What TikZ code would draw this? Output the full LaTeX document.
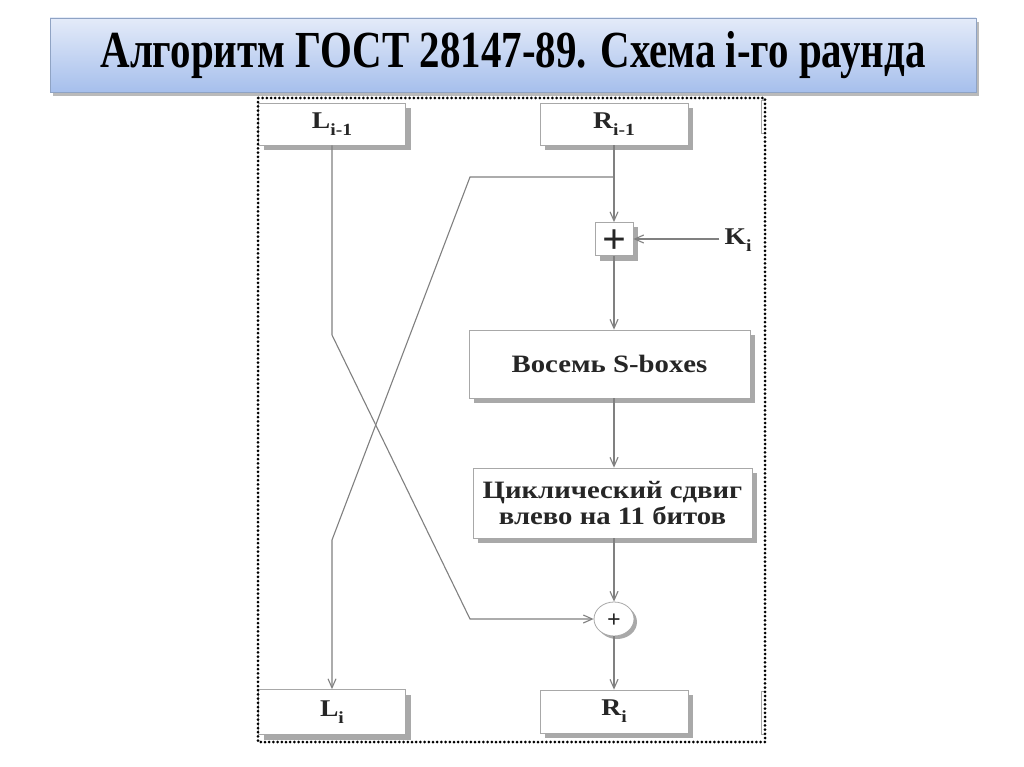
\documentclass[tikz,border=0pt]{standalone}
\usepackage{fontspec}
\setmainfont{Liberation Serif}
\usetikzlibrary{arrows.meta,positioning,shadows,calc,shapes.geometric}
\definecolor{wire}{HTML}{808080}
\definecolor{frame}{HTML}{A8A8A8}
\definecolor{shade}{HTML}{A9A9A9}
\definecolor{ink}{HTML}{262626}
\definecolor{skytop}{HTML}{E4EBF9}
\definecolor{skybot}{HTML}{A6BFEC}
\definecolor{skyline}{HTML}{8FA3C4}
\newcommand{\lowsub}[1]{\raisebox{-0.3em}{\fontsize{17}{17}\selectfont #1}}
\newcommand{\wider}[1]{\scalebox{1.15}[1]{#1}}
\newcommand{\midplus}{\smash{\raisebox{-0.34em}{+}}}
\tikzset{
  box/.style={rectangle, draw=frame, fill=white, line width=0.8pt, inner sep=0pt,
              align=center, text=ink, font=\bfseries\fontsize{25}{26}\selectfont,
              drop shadow={shadow xshift=5pt, shadow yshift=-5pt, fill=shade, opacity=1}},
  xorbox/.style={ellipse, draw=frame, fill=white, line width=0.8pt, inner sep=0pt,
              minimum width=40pt, minimum height=34pt, text=ink, font=\bfseries\fontsize{24}{24}\selectfont,
              drop shadow={shadow xshift=3pt, shadow yshift=-3pt, fill=shade, opacity=1}},
  banner/.style={rectangle, draw=skyline, line width=0.8pt, top color=skytop, bottom color=skybot,
              minimum width=926pt, minimum height=74pt, inner sep=0pt,
              font=\bfseries\fontsize{52}{54}\selectfont,
              drop shadow={shadow xshift=3pt, shadow yshift=-4pt, fill=black!45, opacity=0.6}},
  lbl/.style={text=ink, font=\bfseries\fontsize{24}{24}\selectfont, inner sep=0pt},
  flow/.style={-{Straight Barb[length=9pt,width=8pt]}, draw=wire, line width=1.1pt},
  dotframe/.style={draw=black, line width=3pt, line cap=round, dash pattern=on 0pt off 4.2pt},
  frag/.style={draw=frame, line width=1pt}
}
\begin{document}
\begin{tikzpicture}[x=1pt, y=-1pt]
  \useasboundingbox[fill=white] (0,0) rectangle (1024,767);
  \node[banner] (title) at (513,55) {\resizebox{825pt}{\height}{Алгоритм ГОСТ 28147-89. Схема і-го раунда}};

  \node[box, minimum width=147pt, minimum height=42pt, font=\bfseries\fontsize{24}{24}\selectfont] (Lp) at (332,124) {\wider{L\lowsub{i-1}}};
  \node[box, minimum width=148pt, minimum height=42pt, font=\bfseries\fontsize{24}{24}\selectfont] (Rp) at (614,124) {\wider{R\lowsub{i-1}}};
  \node[box, minimum width=38pt, minimum height=33pt, font=\bfseries\fontsize{42}{42}\selectfont] (add) at (614,239) {\midplus};
  \node[lbl] (key) at (738,240) {\wider{K\lowsub{i}}};
  \node[box, minimum width=281pt, minimum height=68pt] (sbox) at (609.5,364) {\wider{Восемь S-boxes}};
  \node[box, minimum width=279pt, minimum height=70pt] (shift) at (612.5,503) {\wider{Циклический сдвиг}\\\wider{влево на 11 битов}};
  \node[xorbox] (xor) at (614,619) {\midplus};
  \node[box, minimum width=147pt, minimum height=45pt, font=\bfseries\fontsize{24}{24}\selectfont] (Li) at (332,712) {\wider{L\lowsub{i}}};
  \node[box, minimum width=148pt, minimum height=43pt, font=\bfseries\fontsize{24}{24}\selectfont] (Ri) at (614,711.5) {\wider{R\lowsub{i}}};

  % crossing wires
  \coordinate (a1) at (332,335);
  \coordinate (a2) at (470,619);
  \coordinate (b0) at (614,177);
  \coordinate (b1) at (470,177);
  \coordinate (b2) at (332,540);
  \draw[flow] (Lp.south) -- (a1) -- (a2) -- (xor.west);
  \draw[flow] (b0) -- (b1) -- (b2) -- (Li.north);

  % right column
  \draw[flow] (Rp.south) -- (add.north);
  \draw[flow] (key.west |- add.east) ++(-5,0) -- (add.east);
  \draw[flow] (add.south) -- (add.south |- sbox.north);
  \draw[flow] (add.south |- sbox.south) -- (add.south |- shift.north);
  \draw[flow] (add.south |- shift.south) -- (xor.north);
  \draw[flow] (xor.south) -- (Ri.north);

  % clipped edges and frame
  \draw[frag] (764,101) -- (761,101) -- (761,134) -- (764,134);
  \draw[frag] (764,691) -- (761,691) -- (761,734) -- (764,734);
  \draw[dotframe] (258,98) rectangle (765,742);
\end{tikzpicture}
\end{document}
